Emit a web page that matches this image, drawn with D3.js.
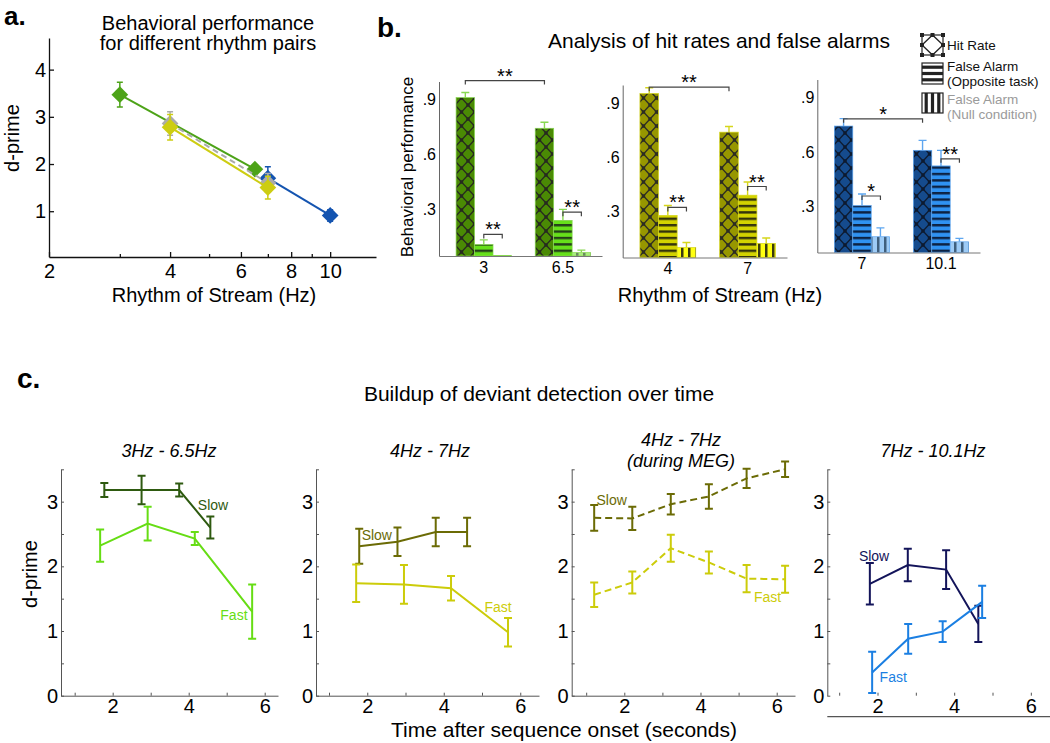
<!DOCTYPE html>
<html><head><meta charset="utf-8">
<script src="https://cdn.jsdelivr.net/npm/d3@7"></script>
<style>body{margin:0;background:#fff}svg{display:block}</style>
</head><body>
<svg id="chart" width="1050" height="743"></svg>
<script>
// ================= DATA =================
// Panel a: d-prime vs rhythm (Hz)
const aRhythmGreen = [3, 6.5];
const aDprimeGreen = [3.47, 1.89];
const aErrGreen = [0.26, 0.08];
const aRhythmYellow = [4, 7];
const aDprimeYellow = [2.78, 1.50];
const aErrYellow = [0.27, 0.24];
const aRhythmBlue = [7, 10];
const aDprimeBlue = [1.70, 0.91];
const aErrBlue = [0.24, 0.12];
const aRhythmMean = [4, 7];
const aDprimeMean = [2.86, 1.60];
const aErrMean = [0.25, 0.2];
const aXTicks = [3, 4, 5, 6, 7, 8, 9, 10];
const aXTickLabels = [2, 4, 6, 8, 10];
const aYTicks = [1, 2, 3, 4];

// Panel b: hit rates and false alarms
const bCategories = [["3", "6.5"], ["4", "7"], ["7", "10.1"]];
const bBarTypes = ["hit", "fa", "null"];
const hitRate = [[0.912, 0.744], [0.953, 0.739], [0.743, 0.609]];
const hitErr = [[0.028, 0.033], [0.032, 0.031], [0.041, 0.055]];
const faOpposite = [[0.108, 0.240], [0.278, 0.390], [0.304, 0.523]];
const faOppErr = [[0.025, 0.060], [0.055, 0.073], [0.064, 0.086]];
const faNull = [[0.048, 0.064], [0.100, 0.123], [0.132, 0.104]];
const faNullErr = [[0.000, 0.013], [0.028, 0.030], [0.049, 0.019]];
const bYTicks = [0.3, 0.6, 0.9];
const sigLabels = [["**", "**", "**"], ["**", "**", "**"], ["*", "*", "**"]];
const sigLevels = [[1.005, 0.163, 0.285], [0.988, 0.322, 0.438], [0.783, 0.357, 0.562]];
const legendLabels = [["Hit Rate"], ["False Alarm", "(Opposite task)"], ["False Alarm", "(Null condition)"]];

// Panel c: buildup over time
const cTitles = [["3Hz - 6.5Hz"], ["4Hz - 7Hz"], ["4Hz - 7Hz", "(during MEG)"], ["7Hz - 10.1Hz"]];
const c1SlowT = [1.78, 2.76, 3.75, 4.57];
const c1SlowD = [3.18, 3.18, 3.18, 2.60];
const c1SlowE = [0.11, 0.22, 0.10, 0.17];
const c1FastT = [1.67, 2.92, 4.16, 5.67];
const c1FastD = [2.32, 2.66, 2.43, 1.30];
const c1FastE = [0.25, 0.26, 0.10, 0.42];
const c2SlowT = [1.79, 2.79, 3.79, 4.61];
const c2SlowD = [2.31, 2.38, 2.53, 2.53];
const c2SlowE = [0.27, 0.22, 0.22, 0.22];
const c2FastT = [1.71, 2.96, 4.19, 5.68];
const c2FastD = [1.74, 1.72, 1.66, 0.98];
const c2FastE = [0.29, 0.30, 0.19, 0.22];
const c3SlowT = [1.21, 2.21, 3.22, 4.22, 5.21, 6.22];
const c3SlowD = [2.75, 2.74, 2.96, 3.08, 3.36, 3.50];
const c3SlowE = [0.20, 0.18, 0.16, 0.19, 0.15, 0.12];
const c3FastT = [1.21, 2.21, 3.22, 4.22, 5.21, 6.22];
const c3FastD = [1.56, 1.75, 2.28, 2.06, 1.81, 1.80];
const c3FastE = [0.19, 0.17, 0.21, 0.17, 0.21, 0.21];
const c4SlowT = [1.80, 2.79, 3.79, 4.63];
const c4SlowD = [1.73, 2.02, 1.95, 1.11];
const c4SlowE = [0.32, 0.25, 0.30, 0.28];
const c4FastT = [1.86, 2.80, 3.70, 4.73];
const c4FastD = [0.36, 0.88, 0.99, 1.45];
const c4FastE = [0.32, 0.23, 0.16, 0.25];
const cXTicks = [1, 2, 3, 4, 5, 6];
const cYTicks = [0, 0.5, 1, 1.5, 2, 2.5, 3, 3.5];

// ================= DRAWING =================
const FONT = '"Liberation Sans", Arial, Helvetica, sans-serif';
const svg = d3.select("#chart");
const defs = svg.append("defs");

function txt(g, x, y, s, size, o = {}) {
  return g.append("text").attr("x", x).attr("y", y)
    .attr("font-family", FONT).attr("font-size", size)
    .attr("text-anchor", o.anchor || "middle").attr("fill", o.fill || "#000")
    .attr("font-weight", o.weight || "normal").attr("font-style", o.style || "normal")
    .text(s);
}
function styleAxis(g, size, color, width) {
  g.attr("font-family", FONT).attr("font-size", size);
  g.selectAll("path,line").attr("stroke", color).attr("stroke-width", width);
  g.selectAll("text").attr("fill", "#000");
}

// ---------- Panel a ----------
const ga = svg.append("g");
const ax = d3.scaleLog().domain([2, 13]).range([49, 376]);
const ay = d3.scaleLinear().domain([0.03, 4.67]).range([257, 38]);

const gaY = ga.append("g").attr("transform", `translate(${ax.range()[0]},0)`)
  .call(d3.axisLeft(ay).tickValues(aYTicks).tickSizeInner(-5).tickSizeOuter(0).tickPadding(3).tickFormat(d3.format("d")));
styleAxis(gaY, 20, "#111", 1.3);
const gaX = ga.append("g").attr("transform", `translate(0,${ay.range()[0]})`)
  .call(d3.axisBottom(ax).tickValues([2].concat(aXTicks)).tickSizeInner(-5).tickSizeOuter(0).tickPadding(7)
    .tickFormat(d => aXTickLabels.includes(d) ? d : ""));
styleAxis(gaX, 20, "#111", 1.3);
gaX.selectAll(".tick line").attr("y2", d => aXTickLabels.includes(d) ? -5 : -3);

txt(ga, 208, 30, "Behavioral performance", 20);
txt(ga, 208, 50, "for different rhythm pairs", 20);
txt(ga, 214, 302, "Rhythm of Stream (Hz)", 20);
txt(ga, 0, 0, "d-prime", 20).attr("transform", "translate(12,138) rotate(-90)").attr("dy", "0.35em");
txt(svg, 4, 25, "a.", 26, {anchor: "start", weight: "bold"});

function drawPairA(xs, ys, es, color, opts = {}) {
  const pts = xs.map((x, i) => ({x, y: ys[i], e: es[i]}));
  ga.append("path").datum(pts)
    .attr("d", d3.line().x(d => ax(d.x)).y(d => ay(d.y)))
    .attr("fill", "none").attr("stroke", color).attr("stroke-width", 2)
    .attr("stroke-dasharray", opts.dash || null);
  const eg = ga.append("g");
  pts.forEach(d => {
    const x = ax(d.x), y1 = ay(d.y + d.e), y2 = ay(d.y - d.e);
    eg.append("path").attr("d", `M${x},${y1}V${y2}M${x - 3},${y1}H${x + 3}M${x - 3},${y2}H${x + 3}`)
      .attr("stroke", color).attr("stroke-width", 1.5).attr("fill", "none");
  });
  ga.selectAll(null).data(pts).enter().append("path")
    .attr("d", d3.symbol(d3.symbolSquare, 140)())
    .attr("transform", d => `translate(${ax(d.x)},${ay(d.y)}) rotate(45)`)
    .attr("fill", color);
}
drawPairA(aRhythmBlue, aDprimeBlue, aErrBlue, "#1454b0");
drawPairA(aRhythmGreen, aDprimeGreen, aErrGreen, "#4da318");
drawPairA(aRhythmMean, aDprimeMean, aErrMean, "#ababab", {dash: "6,4"});
drawPairA(aRhythmYellow, aDprimeYellow, aErrYellow, "#cdcd12");

// ---------- Panel b ----------
const gb = svg.append("g");
txt(svg, 377, 37, "b.", 28, {anchor: "start", weight: "bold"});
txt(gb, 719, 48, "Analysis of hit rates and false alarms", 21);
txt(gb, 720, 302, "Rhythm of Stream (Hz)", 20);
txt(gb, 0, 0, "Behavioral performance", 17).attr("transform", "translate(407,167) rotate(-90)").attr("dy", "0.35em");

const bPalette = [
  {hit: ["#4a8a04", "#262a1e"], fa: ["#66e01a", "#24401a"], null: ["#a8ec7c", "#6a8a5e"], err: "#88d852"},
  {hit: ["#979700", "#2c2c22"], fa: ["#d3d300", "#34340c"], null: ["#ffff10", "#3a3a10"], err: "#d6d61c"},
  {hit: ["#154b8d", "#0c1a30"], fa: ["#2f92f2", "#0d2242"], null: ["#9dcbf6", "#40607e"], err: "#5ea6f0"}
];
function makePattern(id, type, bg, fg) {
  const p = defs.append("pattern").attr("id", id).attr("patternUnits", "userSpaceOnUse");
  if (type === "hit") {
    p.attr("width", 13).attr("height", 14);
    p.append("rect").attr("width", 13).attr("height", 14).attr("fill", bg);
    p.append("path").attr("d", "M0,7L6.5,0L13,7L6.5,14Z").attr("fill", "none").attr("stroke", fg).attr("stroke-width", 1.3);
    [[0, 7], [6.5, 0], [13, 7], [6.5, 14]].forEach(([x, y]) =>
      p.append("rect").attr("x", x - 1.7).attr("y", y - 1.7).attr("width", 3.4).attr("height", 3.4).attr("fill", fg));
  } else if (type === "fa") {
    p.attr("width", 10).attr("height", 6.4);
    p.append("rect").attr("width", 10).attr("height", 6.4).attr("fill", bg);
    p.append("rect").attr("width", 10).attr("height", 2.4).attr("fill", fg);
  } else {
    p.attr("width", 7).attr("height", 10);
    p.append("rect").attr("width", 7).attr("height", 10).attr("fill", bg);
    p.append("rect").attr("x", 2).attr("width", 2.5).attr("height", 10).attr("fill", fg);
  }
}
bPalette.forEach((pal, i) => bBarTypes.forEach(t => makePattern(`p${i}${t}`, t, pal[t][0], pal[t][1])));

const bLayout = [
  {left: 439, right: 602, bottom: 256, top: 81.5},
  {left: 622.7, right: 787, bottom: 257.5, top: 85},
  {left: 817.3, right: 980, bottom: 252.5, top: 79.5}
];
const bValues = [hitRate, faOpposite, faNull];
const bErrors = [hitErr, faOppErr, faNullErr];

bLayout.forEach((L, i) => {
  const g = gb.append("g");
  const xg = d3.scaleBand().domain(bCategories[i]).range([L.left, L.right])
    .paddingInner(0.3).paddingOuter(0.18).align(0.6);
  const xb = d3.scaleBand().domain(bBarTypes).range([0, xg.bandwidth()]);
  const y = d3.scaleLinear().domain([0.045, 1.0]).range([L.bottom, L.top]);

  const bars = [];
  bCategories[i].forEach((c, j) => bBarTypes.forEach((t, k) => {
    bars.push({c, t, v: bValues[k][i][j], e: bErrors[k][i][j]});
  }));
  const pal = bPalette[i];
  bars.forEach(d => {
    if (d.e <= 0) return;
    const cx = xg(d.c) + xb(d.t) + xb.bandwidth() / 2;
    const yt = y(d.v + d.e);
    g.append("path").attr("d", `M${cx},${y(d.v)}V${yt}M${cx - 4},${yt}H${cx + 4}`)
      .attr("stroke", pal.err).attr("stroke-width", 1.4).attr("fill", "none");
  });
  g.selectAll(null).data(bars).enter().append("rect")
    .attr("x", d => xg(d.c) + xb(d.t))
    .attr("width", xb.bandwidth())
    .attr("y", d => y(d.v))
    .attr("height", d => Math.max(0, y.range()[0] - y(d.v)))
    .attr("fill", d => `url(#p${i}${d.t})`)
    .attr("stroke", pal.err).attr("stroke-width", 0.7);

  const gy = g.append("g").attr("transform", `translate(${L.left},0)`)
    .call(d3.axisLeft(y).tickValues(bYTicks).tickSize(0).tickPadding(3)
      .tickFormat(d => "." + Math.round(d * 10)));
  styleAxis(gy, 16, "#666", 1);
  const gx = g.append("g").attr("transform", `translate(0,${L.bottom})`)
    .call(d3.axisBottom(xg).tickSize(0).tickPadding(5.5));
  styleAxis(gx, 16, "#777", 1);

  const ctr = (c, t) => xg(c) + xb(t) + xb.bandwidth() / 2;
  const ends = [
    [ctr(bCategories[i][0], "hit"), ctr(bCategories[i][1], "hit")],
    [ctr(bCategories[i][0], "fa"), ctr(bCategories[i][0], "null")],
    [ctr(bCategories[i][1], "fa"), ctr(bCategories[i][1], "null")]
  ];
  ends.forEach(([x1, x2], k) => {
    const yy = y(sigLevels[i][k]);
    g.append("path").attr("d", `M${x1},${yy + 4}V${yy}H${x2}V${yy + 4}`)
      .attr("fill", "none").attr("stroke", "#444").attr("stroke-width", 1.2);
    txt(g, (x1 + x2) / 2, yy + 2, sigLabels[i][k], 20);
  });
});

// legend
const gl = gb.append("g");
const legBoxes = [{y: 35, h: 20}, {y: 63, h: 21}, {y: 93, h: 20}];
const lx = 922, lw = 21;
legBoxes.forEach((b, k) => {
  gl.append("rect").attr("x", lx).attr("y", b.y).attr("width", lw).attr("height", b.h)
    .attr("fill", "#fff").attr("stroke", "#222").attr("stroke-width", 1.2);
  if (k === 0) {
    gl.append("path").attr("d", `M${lx},${b.y + b.h / 2}L${lx + lw / 2},${b.y}L${lx + lw},${b.y + b.h / 2}L${lx + lw / 2},${b.y + b.h}Z`)
      .attr("fill", "none").attr("stroke", "#222").attr("stroke-width", 1.3);
    [[lx, b.y], [lx + lw, b.y], [lx, b.y + b.h], [lx + lw, b.y + b.h], [lx, b.y + b.h / 2], [lx + lw, b.y + b.h / 2], [lx + lw / 2, b.y], [lx + lw / 2, b.y + b.h]]
      .forEach(([x, y]) => gl.append("rect").attr("x", x - 2).attr("y", y - 2).attr("width", 4).attr("height", 4).attr("fill", "#222"));
  } else if (k === 1) {
    [0.2, 0.5, 0.8].forEach(f => gl.append("rect").attr("x", lx).attr("y", b.y + b.h * f - 1.6).attr("width", lw).attr("height", 3.2).attr("fill", "#222"));
  } else {
    [0.2, 0.5, 0.8].forEach(f => gl.append("rect").attr("x", lx + lw * f - 1.6).attr("y", b.y).attr("width", 3.2).attr("height", b.h).attr("fill", "#222"));
  }
});
const legTextY = [[50], [71, 86], [104, 119]];
legendLabels.forEach((lines, k) => lines.forEach((s, m) =>
  txt(gl, 947, legTextY[k][m], s, 13.5, {anchor: "start", fill: k === 2 ? "#9a9a9a" : "#111"})));

// ---------- Panel c ----------
const gc = svg.append("g");
txt(svg, 17, 388, "c.", 28, {anchor: "start", weight: "bold"});
txt(gc, 539, 401, "Buildup of deviant detection over time", 21);
txt(gc, 564, 737, "Time after sequence onset (seconds)", 21);
txt(gc, 0, 0, "d-prime", 20).attr("transform", "translate(30,574) rotate(-90)").attr("dy", "0.35em");

const cy = d3.scaleLinear().domain([0, 3.5]).range([695.7, 469.3]);
const cLayout = [
  {left: 61, right: 278, dom: [0.64, 6.35], titleX: 169, titleY: [457], dash: null,
   slowColor: "#2e5a10", fastColor: "#66dd14", slowLbl: [4.64, 2.95], fastLbl: [5.19, 1.25], xline: null},
  {left: 316, right: 539, dom: [0.66, 6.49], titleX: 430, titleY: [457], dash: null,
   slowColor: "#6b6b05", fastColor: "#cccc0a", slowLbl: [2.25, 2.49], fastLbl: [5.42, 1.37], xline: null},
  {left: 571.7, right: 795, dom: [0.62, 6.48], titleX: 681, titleY: [446, 467], dash: "7,4",
   slowColor: "#6b6b05", fastColor: "#cccc0a", slowLbl: [1.67, 3.02], fastLbl: [5.76, 1.53], xline: null},
  {left: 827.3, right: 1050, dom: [0.69, 6.5], titleX: 933, titleY: [457], dash: null,
   slowColor: "#13145a", fastColor: "#1b7fe2", slowLbl: [1.91, 2.16], fastLbl: [2.41, 0.28], xline: 716.7}
];
const cSeries = [
  [[c1SlowT, c1SlowD, c1SlowE], [c1FastT, c1FastD, c1FastE]],
  [[c2SlowT, c2SlowD, c2SlowE], [c2FastT, c2FastD, c2FastE]],
  [[c3SlowT, c3SlowD, c3SlowE], [c3FastT, c3FastD, c3FastE]],
  [[c4SlowT, c4SlowD, c4SlowE], [c4FastT, c4FastD, c4FastE]]
];

cLayout.forEach((L, i) => {
  const g = gc.append("g");
  const x = d3.scaleLinear().domain(L.dom).range([L.left, L.right]);
  cTitles[i].forEach((s, k) => txt(g, L.titleX, L.titleY[k], s, 18, {style: "italic"}));

  const gy = g.append("g").attr("transform", `translate(${L.left},0)`)
    .call(d3.axisLeft(cy).tickValues(cYTicks).tickSizeInner(-3).tickSizeOuter(0).tickPadding(3)
      .tickFormat(d => Number.isInteger(d) ? d : ""));
  styleAxis(gy, 20, "#555", 1);
  const gx = g.append("g").attr("transform", `translate(0,${cy.range()[0]})`)
    .call(d3.axisBottom(x).tickValues(cXTicks).tickSizeInner(-3).tickSizeOuter(0).tickPadding(3)
      .tickFormat(d => d % 2 === 0 ? d : ""));
  styleAxis(gx, 20, "#555", 1);
  if (L.xline !== null) {
    gx.select(".domain").remove();
    g.append("line").attr("x1", L.left).attr("x2", L.right).attr("y1", L.xline).attr("y2", L.xline)
      .attr("stroke", "#555").attr("stroke-width", 1.2);
  }

  cSeries[i].forEach(([ts, ds, es], s) => {
    const color = s === 0 ? L.slowColor : L.fastColor;
    const pts = ts.map((t, k) => ({t, d: ds[k], e: es[k]}));
    pts.forEach(p => {
      const px = x(p.t), y1 = cy(p.d + p.e), y2 = cy(p.d - p.e);
      g.append("path").attr("d", `M${px},${y1}V${y2}M${px - 4},${y1}H${px + 4}M${px - 4},${y2}H${px + 4}`)
        .attr("stroke", color).attr("stroke-width", 2).attr("fill", "none");
    });
    g.append("path").datum(pts)
      .attr("d", d3.line().x(p => x(p.t)).y(p => cy(p.d)))
      .attr("fill", "none").attr("stroke", color).attr("stroke-width", 2)
      .attr("stroke-dasharray", L.dash);
    const lbl = s === 0 ? L.slowLbl : L.fastLbl;
    txt(g, x(lbl[0]), cy(lbl[1]), s === 0 ? "Slow" : "Fast", 14, {fill: color}).attr("dy", "0.35em");
  });
});
</script>
</body></html>
